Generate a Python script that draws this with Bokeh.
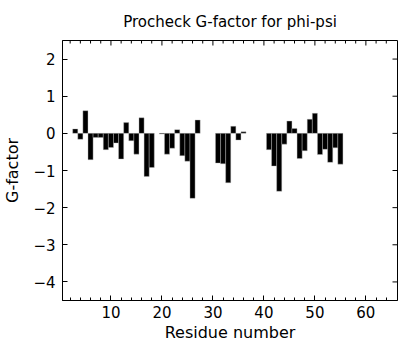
import math
from bokeh.plotting import figure
from bokeh.models import Range1d, FixedTicker
from bokeh.embed import file_html
from bokeh.resources import INLINE

residues = [3, 4, 5, 6, 7, 8, 9, 10, 11, 12, 13, 14, 15, 16, 17, 18,
            20, 21, 22, 23, 24, 25, 26, 27,
            31, 32, 33, 34, 35, 36,
            41, 42, 43, 44, 45, 46, 47, 48, 49, 50, 51, 52, 53, 54, 55]
gfactor = [0.12, -0.16, 0.61, -0.71, -0.11, -0.11, -0.44, -0.38, -0.26, -0.69, 0.29, -0.20, -0.56, 0.42, -1.16, -0.92,
           -0.02, -0.56, -0.40, 0.10, -0.60, -0.75, -1.75, 0.36,
           -0.80, -0.82, -1.33, 0.19, -0.18, 0.04,
           -0.44, -0.88, -1.56, -0.29, 0.33, 0.13, -0.68, -0.47, 0.38, 0.54, -0.57, -0.43, -0.78, -0.39, -0.83]
x_ticks = [10, 20, 30, 40, 50, 60]
x_minor = [t for t in range(2, 66, 2) if t % 10 != 0]
y_ticks = [-4, -3, -2, -1, 0, 1, 2]
x_lo, x_hi = 0.5, 66.2
y_lo, y_hi = -4.5, 2.5

FONT = "DejaVu Sans"

p = figure(width=400, height=344, output_backend="svg", toolbar_location=None,
           x_range=Range1d(x_lo, x_hi), y_range=Range1d(y_lo, y_hi),
           min_border_left=55, min_border_right=3, min_border_top=34, min_border_bottom=38,
           title="Procheck G-factor for phi-psi")
p.title.text_font = FONT
p.title.text_font_size = "15px"
p.title.text_font_style = "normal"
p.title.align = "center"
p.title.text_color = "black"
p.title.standoff = 20
p.grid.visible = False
p.outline_line_color = "black"
p.outline_line_width = 1

p.vbar(x=residues, top=gfactor, bottom=0, width=1.0, fill_color="black",
       line_color="#bbbbbb", line_width=0.4)

for ax, name in ((p.xaxis[0], "Residue number"), (p.yaxis[0], "G-factor")):
    ax.axis_line_color = "black"
    ax.major_tick_in = 5
    ax.major_tick_out = 0
    ax.minor_tick_in = 3
    ax.minor_tick_out = 0
    ax.major_tick_line_color = "black"
    ax.minor_tick_line_color = "black"
    ax.major_label_text_font = FONT
    ax.major_label_text_font_size = "15px"
    ax.major_label_text_color = "black"
    ax.axis_label = name
    ax.axis_label_text_font = FONT
    ax.axis_label_text_font_size = "16px"
    ax.axis_label_text_font_style = "normal"
    ax.axis_label_text_color = "black"

p.xaxis.major_label_standoff = 5
p.xaxis.axis_label_standoff = 2
p.yaxis.major_label_standoff = 7
p.yaxis.axis_label_standoff = 8

p.xaxis.ticker = FixedTicker(ticks=x_ticks, minor_ticks=x_minor)
p.yaxis.ticker = FixedTicker(ticks=y_ticks, minor_ticks=[])

# mirrored inward ticks on the top and right frame edges (clipped to frame)
p.scatter(x=x_ticks, y=[y_hi] * len(x_ticks), marker="dash", angle=math.pi / 2,
          size=10, line_color="black", line_width=1)
p.scatter(x=x_minor, y=[y_hi] * len(x_minor), marker="dash", angle=math.pi / 2,
          size=6, line_color="black", line_width=1)
p.scatter(x=[x_hi] * len(y_ticks), y=y_ticks, marker="dash",
          size=10, line_color="black", line_width=1)

open("out.html", "w").write(file_html(p, INLINE))
